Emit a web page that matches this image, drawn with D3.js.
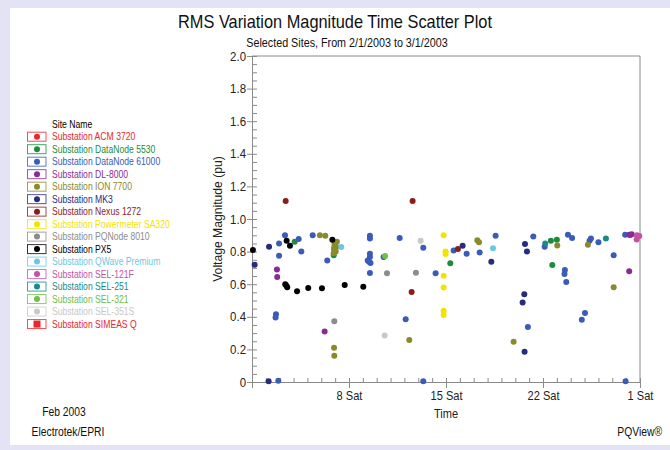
<!DOCTYPE html>
<html>
<head>
<meta charset="utf-8">
<script src="https://cdn.jsdelivr.net/npm/d3@7"></script>
<style>
  html, body { margin: 0; padding: 0; background: #e4e2f5; }
  svg { display: block; font-family: "Liberation Sans", Arial, sans-serif; }
</style>
</head>
<body>
<svg id="chart" width="670" height="450"></svg>
<script>
// ---------------- DATA ----------------
const titleText = "RMS Variation Magnitude Time Scatter Plot";
const subtitleText = "Selected Sites, From 2/1/2003 to 3/1/2003";
const yAxisTitle = "Voltage Magnitude (pu)";
const xAxisTitle = "Time";
const legendTitle = "Site Name";
const footLeft1 = "Feb 2003";
const footLeft2 = "Electrotek/EPRI";
const footRight = "PQView®";

const timeDomain = ["2003-02-01T00:00", "2003-03-01T00:00"];
const xMajorTicks = ["2003-02-08T00:00", "2003-02-15T00:00", "2003-02-22T00:00", "2003-03-01T00:00"];
const yMajorTicks = [0, 0.2, 0.4, 0.6, 0.8, 1.0, 1.2, 1.4, 1.6, 1.8, 2.0];

const siteNames = [
  "Substation ACM 3720", "Substation DataNode 5530", "Substation DataNode 61000",
  "Substation DL-8000", "Substation ION 7700", "Substation MK3", "Substation Nexus 1272",
  "Substation Powermeter SA320", "Substation PQNode 8010", "Substation PX5",
  "Substation QWave Premium", "Substation SEL-121F", "Substation SEL-251",
  "Substation SEL-321", "Substation SEL-351S", "Substation SIMEAS Q"
];

const acm3720 = [];
const dataNode5530 = [
  ["2003-02-04T01:55", 0.860], ["2003-02-06T21:35", 0.777], ["2003-02-15T07:25", 0.728],
  ["2003-02-22T13:40", 0.867], ["2003-02-23T00:00", 0.873], ["2003-02-22T16:05", 0.718]
];
const dataNode61000 = [
  ["2003-02-02T22:50", 0.850], ["2003-02-02T22:50", 0.775], ["2003-02-03T09:07", 0.900],
  ["2003-02-04T08:53", 0.877], ["2003-02-04T13:26", 0.800], ["2003-02-05T09:07", 0.900],
  ["2003-02-06T10:19", 0.745], ["2003-02-02T17:31", 0.415], ["2003-02-02T16:48", 0.395],
  ["2003-02-02T21:36", 0.008], ["2003-02-09T12:14", 0.897], ["2003-02-09T12:14", 0.880],
  ["2003-02-09T12:14", 0.787], ["2003-02-09T12:14", 0.767], ["2003-02-09T08:24", 0.745],
  ["2003-02-09T10:48", 0.738], ["2003-02-09T13:12", 0.730], ["2003-02-09T12:14", 0.669],
  ["2003-02-10T12:00", 0.767], ["2003-02-11T15:50", 0.883], ["2003-02-13T08:38", 0.824],
  ["2003-02-13T08:38", 0.005], ["2003-02-14T06:00", 0.667], ["2003-02-12T02:10", 0.385],
  ["2003-02-15T13:12", 0.806], ["2003-02-16T11:46", 0.787], ["2003-02-17T10:19", 0.795],
  ["2003-02-18T13:55", 0.897], ["2003-02-21T07:12", 0.892], ["2003-02-20T21:50", 0.337],
  ["2003-02-22T02:53", 0.830], ["2003-02-23T19:12", 0.904], ["2003-02-24T02:24", 0.883],
  ["2003-02-23T13:55", 0.687], ["2003-02-23T13:12", 0.663], ["2003-02-23T16:19", 0.613],
  ["2003-02-25T00:43", 0.423], ["2003-02-24T19:12", 0.382], ["2003-02-25T08:38", 0.867],
  ["2003-02-25T11:02", 0.881], ["2003-02-26T00:00", 0.857], ["2003-02-27T02:24", 0.777],
  ["2003-02-27T22:19", 0.904], ["2003-02-27T23:02", 0.005]
];
const dl8000 = [
  ["2003-02-02T19:12", 0.690], ["2003-02-02T19:41", 0.644], ["2003-02-06T05:46", 0.310],
  ["2003-02-28T05:17", 0.904], ["2003-02-28T09:36", 0.906], ["2003-02-28T07:12", 0.902],
  ["2003-02-28T05:17", 0.679]
];
const ion7700 = [
  ["2003-02-05T21:36", 0.900], ["2003-02-06T06:58", 0.897], ["2003-02-06T23:00", 0.850],
  ["2003-02-07T03:00", 0.860], ["2003-02-06T22:30", 0.830], ["2003-02-07T02:00", 0.828],
  ["2003-02-06T22:00", 0.815], ["2003-02-07T01:00", 0.800], ["2003-02-06T21:30", 0.790],
  ["2003-02-06T22:05", 0.210], ["2003-02-06T22:34", 0.161], ["2003-02-12T08:24", 0.258],
  ["2003-02-17T06:14", 0.869], ["2003-02-17T09:07", 0.857], ["2003-02-19T21:07", 0.247],
  ["2003-02-23T00:43", 0.838], ["2003-02-25T05:46", 0.842], ["2003-02-27T02:24", 0.581]
];
const mk3 = [
  ["2003-02-01T04:34", 0.720], ["2003-02-02T05:31", 0.830], ["2003-02-02T04:48", 0.005],
  ["2003-02-16T04:48", 0.836], ["2003-02-18T06:29", 0.738], ["2003-02-20T16:48", 0.847],
  ["2003-02-20T20:10", 0.800], ["2003-02-20T15:36", 0.538], ["2003-02-20T12:43", 0.487],
  ["2003-02-20T16:05", 0.186]
];
const nexus1272 = [
  ["2003-02-03T10:19", 1.110], ["2003-02-12T14:10", 1.110], ["2003-02-12T12:29", 0.552],
  ["2003-02-15T20:38", 0.816]
];
const powermeterSA320 = [
  ["2003-02-14T19:55", 0.900], ["2003-02-14T23:17", 0.800], ["2003-02-14T23:17", 0.785],
  ["2003-02-14T19:55", 0.652], ["2003-02-14T19:55", 0.579], ["2003-02-14T19:55", 0.437],
  ["2003-02-14T19:55", 0.411]
];
const pqNode8010 = [
  ["2003-02-06T22:34", 0.372], ["2003-02-10T17:46", 0.667], ["2003-02-12T19:55", 0.670]
];
const px5 = [
  ["2003-02-01T01:40", 0.810], ["2003-02-03T12:00", 0.867], ["2003-02-03T17:45", 0.836],
  ["2003-02-03T09:35", 0.600], ["2003-02-03T11:30", 0.590], ["2003-02-03T13:00", 0.582],
  ["2003-02-04T06:00", 0.556], ["2003-02-05T01:25", 0.577], ["2003-02-06T01:10", 0.575],
  ["2003-02-06T19:10", 0.873], ["2003-02-07T16:35", 0.595], ["2003-02-09T00:45", 0.585]
];
const qwavePremium = [["2003-02-07T10:34", 0.828], ["2003-02-18T09:22", 0.820]];
const sel121F = [["2003-02-28T18:43", 0.900], ["2003-02-28T18:14", 0.875], ["2003-02-28T22:48", 0.895]];
const sel251 = [["2003-02-22T03:50", 0.849], ["2003-02-26T12:58", 0.881]];
const sel321 = [["2003-02-10T14:24", 0.773]];
const sel351S = [["2003-02-13T04:05", 0.867], ["2003-02-10T13:41", 0.286]];
const simeasQ = [];

const seriesValues = [acm3720, dataNode5530, dataNode61000, dl8000, ion7700, mk3, nexus1272,
  powermeterSA320, pqNode8010, px5, qwavePremium, sel121F, sel251, sel321, sel351S, simeasQ];

// ---------------- STYLES ----------------
const siteColors = ["#e8262c", "#1c8c3c", "#3a5bb8", "#8c2a94", "#8a8a2c", "#262c80", "#8c1c1c",
  "#f2e400", "#8c8c8c", "#000000", "#6cc8e0", "#c452a4", "#188a8a", "#6cc044", "#c8c8c8", "#e8262c"];
const siteMarkers = ["circle", "circle", "circle", "circle", "circle", "circle", "circle", "circle",
  "circle", "circle", "circle", "circle", "circle", "circle", "circle", "square"];

// ---------------- DRAW ----------------
const svg = d3.select("#chart");
const parse = d3.timeParse("%Y-%m-%dT%H:%M");

function condense(sel, f) {
  sel.each(function () {
    const w = this.getComputedTextLength();
    d3.select(this).attr("textLength", w * f).attr("lengthAdjust", "spacingAndGlyphs");
  });
}

// white panel
svg.append("rect").attr("x", 10).attr("y", 8).attr("width", 660).attr("height", 437).attr("fill", "#ffffff");

const plot = { left: 252, right: 640, top: 56, bottom: 382 };
const x = d3.scaleTime().domain(timeDomain.map(parse)).range([plot.left, plot.right]);
const y = d3.scaleLinear().domain([0, 2]).range([plot.bottom, plot.top]);

// frame top/right
svg.append("line").attr("x1", plot.left).attr("x2", plot.right).attr("y1", plot.top).attr("y2", plot.top)
  .attr("stroke", "#8a8a8a").attr("stroke-width", 1);
svg.append("line").attr("x1", plot.right).attr("x2", plot.right).attr("y1", plot.top).attr("y2", plot.bottom)
  .attr("stroke", "#8a8a8a").attr("stroke-width", 1);

// y minor ticks (inward)
const yMinor = d3.range(0, 2.0001, 0.05).map(v => +v.toFixed(2));
svg.append("g").attr("transform", `translate(${plot.left},0)`)
  .call(d3.axisRight(y).tickValues(yMinor).tickSize(5).tickFormat(""))
  .call(g => g.select(".domain").remove())
  .call(g => g.selectAll("line").attr("stroke", "#8a8a8a"));

// y major axis
const yAxisG = svg.append("g").attr("transform", `translate(${plot.left},0)`)
  .call(d3.axisLeft(y).tickValues(yMajorTicks).tickSize(5).tickPadding(1)
    .tickFormat(v => v === 0 ? "0" : d3.format(".1f")(v)));
yAxisG.select(".domain").attr("stroke", "#8a8a8a");
yAxisG.selectAll("line").attr("stroke", "#8a8a8a");
yAxisG.selectAll("text").attr("font-size", 13).attr("fill", "#222").attr("font-family", "Liberation Sans, Arial, sans-serif")
  .call(condense, 0.88);

// x minor ticks (daily, inward)
svg.append("g").attr("transform", `translate(0,${plot.bottom})`)
  .call(d3.axisTop(x).ticks(d3.timeDay.every(1)).tickSize(4).tickFormat(""))
  .call(g => g.select(".domain").remove())
  .call(g => g.selectAll("line").attr("stroke", "#8a8a8a"));

// x major axis
const xAxisG = svg.append("g").attr("transform", `translate(0,${plot.bottom})`)
  .call(d3.axisBottom(x).tickValues(xMajorTicks.map(parse)).tickSize(6).tickPadding(3)
    .tickFormat(d3.timeFormat("%-d %a")));
xAxisG.select(".domain").attr("stroke", "#8a8a8a");
xAxisG.selectAll("line").attr("stroke", "#8a8a8a");
xAxisG.selectAll("text").attr("font-size", 13).attr("fill", "#222").attr("font-family", "Liberation Sans, Arial, sans-serif")
  .call(condense, 0.85);

// axis titles
svg.append("text").attr("x", (plot.left + plot.right) / 2).attr("y", 418).attr("text-anchor", "middle")
  .attr("font-size", 13).attr("fill", "#222").text(xAxisTitle).call(condense, 0.85);
svg.append("text").attr("transform", `translate(222,${(plot.top + plot.bottom) / 2}) rotate(-90)`)
  .attr("text-anchor", "middle").attr("font-size", 13.5).attr("fill", "#222").text(yAxisTitle).call(condense, 0.9);

// titles
svg.append("text").attr("x", 335).attr("y", 28).attr("text-anchor", "middle")
  .attr("font-size", 19).attr("fill", "#111").text(titleText).call(condense, 0.86);
svg.append("text").attr("x", 347).attr("y", 47).attr("text-anchor", "middle")
  .attr("font-size", 12.5).attr("fill", "#111").text(subtitleText).call(condense, 0.86);

// footers
svg.append("text").attr("x", 64).attr("y", 416).attr("text-anchor", "middle")
  .attr("font-size", 12).attr("fill", "#111").text(footLeft1).call(condense, 0.86);
svg.append("text").attr("x", 68).attr("y", 436).attr("text-anchor", "middle")
  .attr("font-size", 12).attr("fill", "#111").text(footLeft2).call(condense, 0.86);
svg.append("text").attr("x", 662).attr("y", 436).attr("text-anchor", "end")
  .attr("font-size", 12).attr("fill", "#111").text(footRight).call(condense, 0.86);

// points
const pts = svg.append("g");
seriesValues.forEach((vals, i) => {
  const g = pts.append("g");
  if (siteMarkers[i] === "square") {
    g.selectAll("rect").data(vals).join("rect")
      .attr("x", d => x(parse(d[0])) - 3).attr("y", d => y(d[1]) - 3)
      .attr("width", 6).attr("height", 6).attr("fill", siteColors[i]);
  } else {
    g.selectAll("circle").data(vals).join("circle")
      .attr("cx", d => x(parse(d[0]))).attr("cy", d => y(d[1]))
      .attr("r", 3).attr("fill", siteColors[i]);
  }
});

// legend
const leg = svg.append("g");
leg.append("text").attr("x", 52).attr("y", 128).attr("font-size", 10.5).attr("fill", "#000")
  .text(legendTitle).call(condense, 0.82);
const rowY = i => 136.7 + i * 12.49;
siteNames.forEach((name, i) => {
  const cy = rowY(i);
  leg.append("rect").attr("x", 27.5).attr("y", cy - 4.5).attr("width", 18.5).attr("height", 9)
    .attr("fill", "#fff").attr("stroke", siteColors[i]).attr("stroke-width", 1).attr("stroke-opacity", 0.8);
  if (siteMarkers[i] === "square") {
    leg.append("rect").attr("x", 37 - 3.5).attr("y", cy - 3.5).attr("width", 7).attr("height", 7).attr("fill", siteColors[i]);
  } else {
    leg.append("circle").attr("cx", 37).attr("cy", cy).attr("r", 3).attr("fill", siteColors[i]);
  }
  leg.append("text").attr("x", 52).attr("y", cy + 3.6).attr("font-size", 10.5).attr("fill", siteColors[i])
    .text(name).call(condense, 0.82);
});
</script>
</body>
</html>
